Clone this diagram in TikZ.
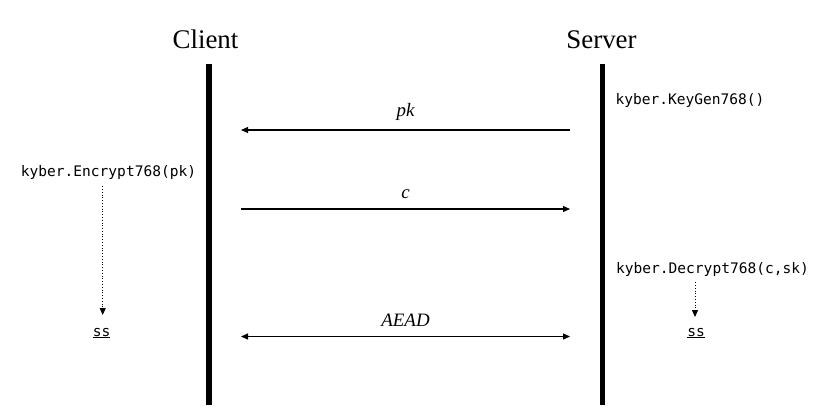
\documentclass[tikz,border=0pt]{standalone}
\usepackage{fontspec}
\setmainfont{Liberation Serif}
\setmonofont{DejaVu Sans Mono}
\usetikzlibrary{arrows.meta}

\begin{document}
\begin{tikzpicture}[x=1bp, y=-1bp,
        lifeline/.style={line width=5.5bp},
        msg/.style={line width=1.1bp, -{Triangle[length=7bp,width=6bp]}},
        calcarrow/.style={dotted, line width=0.8bp, -{Triangle[length=7bp,width=6bp]}},
        party/.style={font=\fontsize{27}{30}\selectfont, inner sep=0pt, anchor=base},
        op/.style={font=\fontsize{14.6}{16}\selectfont\ttfamily, inner sep=0pt, anchor=base},
        lbl/.style={font=\fontsize{19}{22}\selectfont\itshape, above=6bp}]
    \useasboundingbox (0,0) rectangle (826,412);

    % parties and lifelines
    \node[party] (client) at (205.5,48) {Client};
    \node[party] (server) at (601.5,48) {Server};

    \coordinate (cTop) at (209,64);
    \coordinate (cBot) at (209,405);
    \coordinate (sTop) at (602.5,64);
    \coordinate (sBot) at (602.5,405);

    \draw[lifeline] (cTop) -- (cBot);
    \draw[lifeline] (sTop) -- (sBot);

    % message end points
    \coordinate (pkS) at (570,130);
    \coordinate (pkC) at (241,130);
    \coordinate (cC) at (241,209);
    \coordinate (cS) at (570,209);
    \coordinate (aeadC) at (241,336.5);
    \coordinate (aeadS) at (570,336.5);

    \draw[msg] (pkS) -- (pkC) node[lbl, midway] {pk};
    \draw[msg] (cC) -- (cS) node[lbl, midway] {c};
    \draw[msg, {Triangle[length=7bp,width=6bp]}-{Triangle[length=7bp,width=6bp]}] (aeadC) -- (aeadS) node[lbl, midway] {AEAD};

    % local computations
    \node[op] (keygen) at (690,104) {kyber.KeyGen768()};
    \node[op] (enc) at (108.5,176) {kyber.Encrypt768(pk)};
    \node[op] (dec) at (712.5,273) {kyber.Decrypt768(c,sk)};
    \node[op] (ssC) at (101.7,336) {\underline{ss}};
    \node[op] (ssS) at (696,336) {\underline{ss}};

    \draw[calcarrow] (enc.south -| 102.7,0) ++(0,7) -- (102.7,315);
    \draw[calcarrow] (dec.south -| 695,0) ++(0,6) -- (695,317);
\end{tikzpicture}
\end{document}
